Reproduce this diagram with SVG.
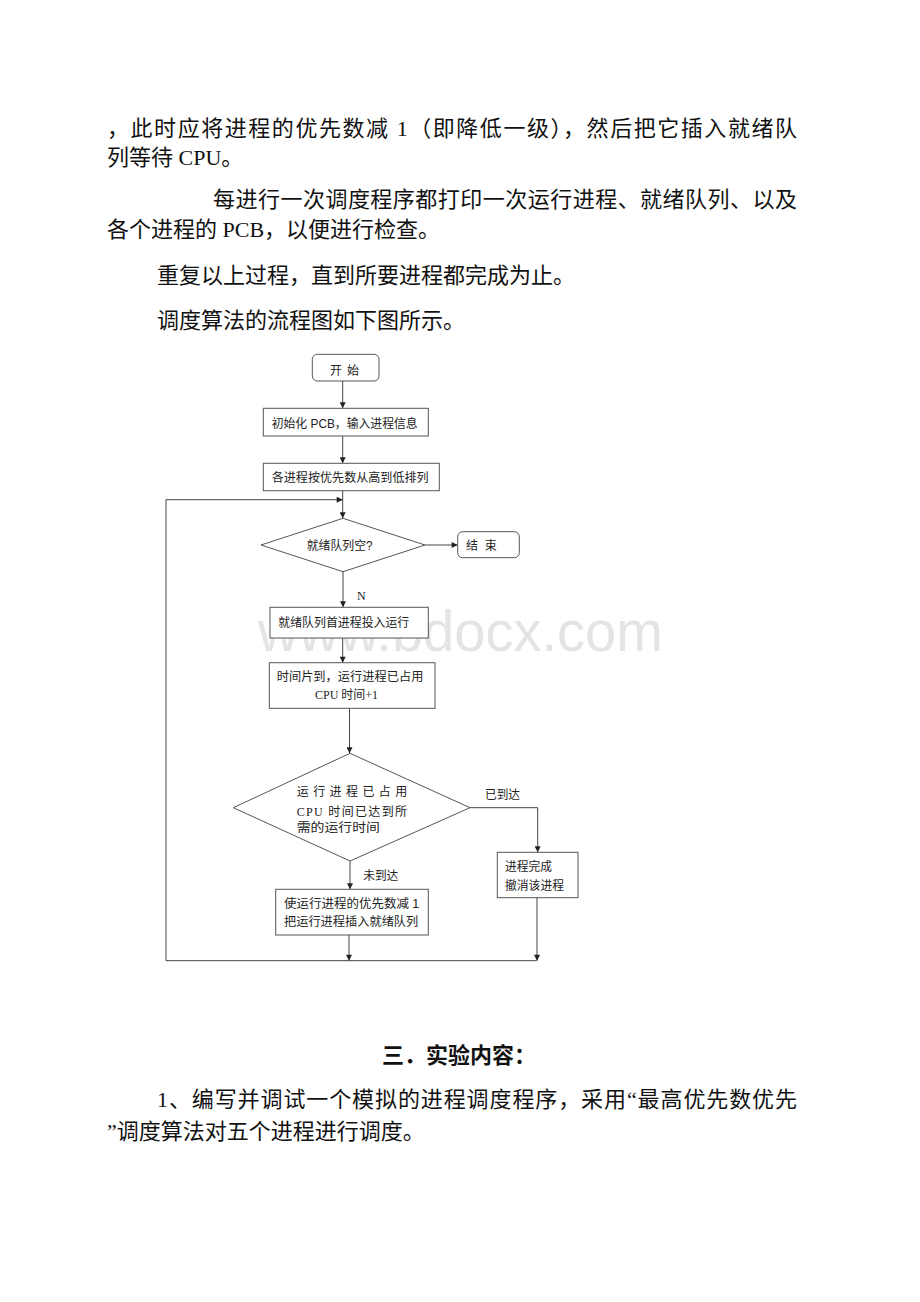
<svg xmlns="http://www.w3.org/2000/svg" width="920" height="1302" viewBox="0 0 920 1302">
<style>
.body{font-family:"Liberation Serif","Noto Sans CJK SC",serif;font-size:22px;fill:#111}
.head{font-family:"Liberation Serif","Noto Sans CJK SC",serif;font-size:22px;font-weight:bold;fill:#111}
.fc{font-family:"Liberation Sans","Noto Sans CJK SC",sans-serif;font-size:12px;fill:#222}
.fcs{font-family:"Liberation Serif","Noto Sans CJK SC",serif;font-size:12px;fill:#222}
.box{fill:#fff;stroke:#555;stroke-width:1}
.ln{fill:none;stroke:#444;stroke-width:1}
.wm{font-family:"Liberation Sans","Open Sans",sans-serif;font-size:58px;fill:#e4e4e4}
</style>
<defs>
<marker id="ah" viewBox="0 0 10 10" refX="10" refY="5" markerWidth="7" markerHeight="6" markerUnits="userSpaceOnUse" orient="auto">
<path d="M0,0 L10,5 L0,10 z" fill="#222"/>
</marker>
</defs>
<rect width="920" height="1302" fill="#fff"/>

<g id="text-top">
<text class="body" x="107" y="136" textLength="690" lengthAdjust="spacing">，此时应将进程的优先数减 1（即降低一级），然后把它插入就绪队</text>
<text class="body" x="107" y="165">列等待 CPU。</text>
<text class="body" x="213" y="207" textLength="584" lengthAdjust="spacing">每进行一次调度程序都打印一次运行进程、就绪队列、以及</text>
<text class="body" x="107" y="237">各个进程的 PCB，以便进行检查。</text>
<text class="body" x="157" y="283">重复以上过程，直到所要进程都完成为止。</text>
<text class="body" x="157" y="328">调度算法的流程图如下图所示。</text>
</g>

<text class="wm" x="258" y="651" textLength="405" lengthAdjust="spacingAndGlyphs">www.bdocx.com</text>

<g id="connectors">
<path class="ln" d="M342.7,381 V408.3" marker-end="url(#ah)"/>
<path class="ln" d="M342.7,436 V463.3" marker-end="url(#ah)"/>
<path class="ln" d="M342.7,490.7 V518.3" marker-end="url(#ah)"/>
<path class="ln" d="M536.7,960.7 H166 V499.7 H342.7" marker-end="url(#ah)"/>
<path class="ln" d="M425,545 H457.7" marker-end="url(#ah)"/>
<path class="ln" d="M343,571.7 V607.3" marker-end="url(#ah)"/>
<path class="ln" d="M342.7,638 V662.7" marker-end="url(#ah)"/>
<path class="ln" d="M349.5,708.3 V753.3" marker-end="url(#ah)"/>
<path class="ln" d="M470,807.7 H537.7 V852.3" marker-end="url(#ah)"/>
<path class="ln" d="M350,861 V889.3" marker-end="url(#ah)"/>
<path class="ln" d="M349,935 V960.7" marker-end="url(#ah)"/>
<path class="ln" d="M537,897.7 V960.7" marker-end="url(#ah)"/>
<text class="fcs" x="357" y="599.5">N</text>
<text class="fc" x="485" y="799" textLength="35" lengthAdjust="spacingAndGlyphs">已到达</text>
<text class="fc" x="363.3" y="879.5" textLength="35" lengthAdjust="spacingAndGlyphs">未到达</text>
</g>

<g id="start">
<rect class="box" x="312.3" y="354.3" width="66.7" height="26.7" rx="5"/>
<text class="fc" x="330" y="374.5" textLength="29" lengthAdjust="spacing">开 始</text>
</g>
<g id="init">
<rect class="box" x="263.3" y="408.3" width="165" height="27.7"/>
<text class="fc" x="271.7" y="427.8" textLength="146" lengthAdjust="spacingAndGlyphs">初始化 PCB，输入进程信息</text>
</g>
<g id="sort">
<rect class="box" x="263.3" y="463.3" width="176" height="27.4"/>
<text class="fc" x="271.7" y="482.2" textLength="157" lengthAdjust="spacingAndGlyphs">各进程按优先数从高到低排列</text>
</g>
<g id="empty">
<polygon class="box" points="343,518.3 425,545 343,571.7 261,545"/>
<text class="fc" x="306.7" y="549.5" textLength="66" lengthAdjust="spacingAndGlyphs">就绪队列空?</text>
</g>
<g id="end">
<rect class="box" x="457.7" y="531.7" width="61.6" height="26" rx="5"/>
<text class="fc" x="466" y="549.5" textLength="30.7" lengthAdjust="spacing">结 束</text>
</g>
<g id="run">
<rect class="box" x="270" y="607.3" width="158.3" height="30.7"/>
<text class="fc" x="278.3" y="627.2" textLength="131" lengthAdjust="spacingAndGlyphs">就绪队列首进程投入运行</text>
</g>
<g id="slice">
<rect class="box" x="269.3" y="662.7" width="165.7" height="45.6"/>
<text class="fc" x="276.7" y="681.2" textLength="146.7" lengthAdjust="spacingAndGlyphs">时间片到，运行进程已占用</text>
<text class="fcs" x="315" y="698.8" textLength="63" lengthAdjust="spacingAndGlyphs">CPU 时间+1</text>
</g>
<g id="check">
<polygon class="box" points="350,753.3 470,807.7 350,861 233.3,807.7"/>
<text class="fc" x="296.7" y="796.2" textLength="110.6" lengthAdjust="spacing">运行进程已占用</text>
<text class="fcs" x="296.7" y="815.5" textLength="110.3" lengthAdjust="spacing">CPU 时间已达到所</text>
<text class="fc" x="296.7" y="832.2" textLength="83.3" lengthAdjust="spacingAndGlyphs">需的运行时间</text>
</g>
<g id="done">
<rect class="box" x="497.3" y="852.3" width="80.7" height="45.4"/>
<text class="fc" x="505" y="870.5" textLength="47" lengthAdjust="spacingAndGlyphs">进程完成</text>
<text class="fc" x="505" y="889.5" textLength="59" lengthAdjust="spacingAndGlyphs">撤消该进程</text>
</g>
<g id="requeue">
<rect class="box" x="275.7" y="889.3" width="152.6" height="45.7"/>
<text class="fc" x="284" y="907.8" textLength="135.3" lengthAdjust="spacingAndGlyphs">使运行进程的优先数减 1</text>
<text class="fc" x="284" y="926.2" textLength="134.3" lengthAdjust="spacingAndGlyphs">把运行进程插入就绪队列</text>
</g>

<g id="text-bottom">
<text class="head" x="382" y="1063">三．实验内容：</text>
<text class="body" x="157" y="1107" textLength="640" lengthAdjust="spacing">1、编写并调试一个模拟的进程调度程序，采用“最高优先数优先</text>
<text class="body" x="107" y="1139">”调度算法对五个进程进行调度。</text>
</g>
</svg>
